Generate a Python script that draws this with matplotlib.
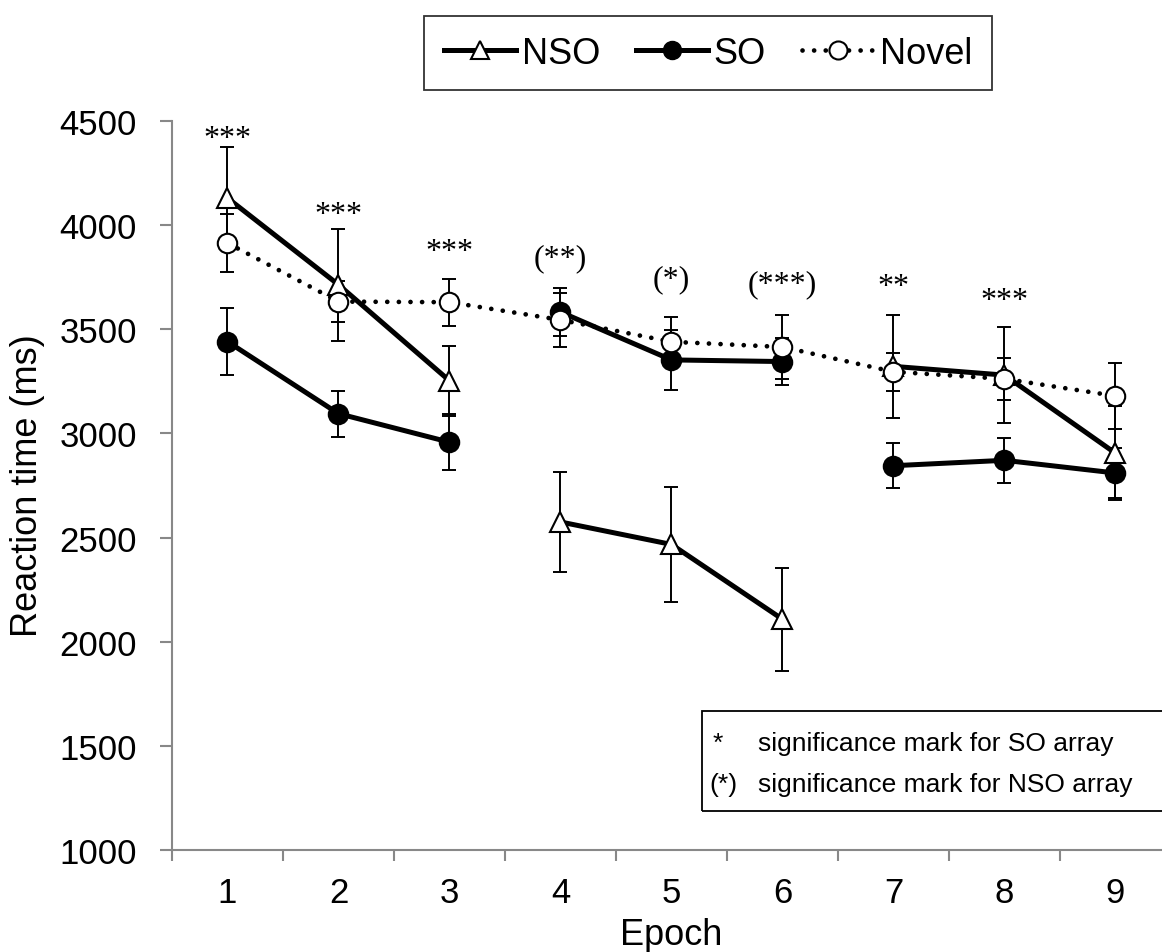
import numpy as np
import matplotlib
matplotlib.use("Agg")
import matplotlib.pyplot as plt
from matplotlib.lines import Line2D
from matplotlib.patches import Rectangle

plt.rcParams['font.family'] = ['Liberation Sans', 'DejaVu Sans']

epochs = np.arange(1, 10)
nso = np.array([4130, 3714, 3253, 2575, 2467, 2108, 3322, 3280, 2905])
nso_err = np.array([246, 268, 168, 240, 278, 247, 248, 230, 225])
so = np.array([3441, 3095, 2958, 3583, 3353, 3345, 2845, 2871, 2810])
so_err = np.array([160, 110, 135, 115, 143, 112, 108, 107, 120])
novel = np.array([3914, 3633, 3630, 3545, 3440, 3415, 3296, 3262, 3180])
novel_err = np.array([139, 99, 113, 130, 120, 154, 90, 102, 158])

sig_labels = ['***', '***', '***', '(**)', '(*)', '(***)', '**', '***']
sig_y = [4382, 4017, 3839, 3809, 3708, 3684, 3667, 3604]

segments = [slice(0, 3), slice(3, 6), slice(6, 9)]

fig = plt.figure(figsize=(11.62, 9.53), dpi=100)
ax = fig.add_axes([0.148, 0.107, 0.8597, 0.765])

gray = '#888888'
lw_main = 3.6
ms = 14
dotted = (0, (0.01, 2.45))

# error bars first, markers on top
for y, e in [(nso, nso_err), (so, so_err), (novel, novel_err)]:
    ax.errorbar(epochs, y, yerr=e, fmt='none', ecolor='black',
                elinewidth=1.4, capsize=4.7, capthick=1.4, zorder=2)

for s in segments:
    ax.plot(epochs[s], nso[s], color='black', lw=lw_main, marker='^', ms=ms,
            mfc='white', mec='black', mew=1.5, zorder=3)
    ax.plot(epochs[s], so[s], color='black', lw=lw_main, marker='o', ms=ms,
            mfc='black', mec='black', mew=1.5, zorder=3)

ax.plot(epochs, novel, color='black', lw=3.4, linestyle=dotted,
        dash_capstyle='round', marker='o', ms=ms, mfc='white', mec='black',
        mew=1.5, zorder=4)

for x, lab, yy in zip(epochs, sig_labels, sig_y):
    ax.text(x, yy, lab, ha='center', va='baseline', fontsize=23,
            family=['Liberation Serif', 'DejaVu Serif'])

ax.set_ylim(1000, 4500)
ax.set_xlim(0.5, 9.5)
ax.set_yticks(np.arange(1000, 4501, 500))
ax.set_xticks(np.arange(0.5, 10, 1))
ax.set_xticklabels([])
ax.set_xticks(epochs, minor=True)
ax.set_xticklabels([str(e) for e in epochs], minor=True)

for side in ['top', 'right']:
    ax.spines[side].set_visible(False)
for side in ['left', 'bottom']:
    ax.spines[side].set_color(gray)
    ax.spines[side].set_linewidth(1.5)

ax.tick_params(axis='y', which='major', length=8.6, width=1.5, color=gray,
               labelsize=25, pad=16.5)
ax.tick_params(axis='x', which='major', length=8, width=1.5, color=gray)
ax.tick_params(axis='x', which='minor', length=0, labelsize=25, pad=19)

fig.text(27.5 / 1162, 1 - 486 / 953, 'Reaction time (ms)', rotation=90,
         ha='center', va='center', fontsize=26)
fig.text(671 / 1162, 8 / 953, 'Epoch', ha='center', va='baseline', fontsize=26)

handles = [
    Line2D([], [], color='black', lw=lw_main, marker='^', ms=13,
           mfc='white', mec='black', mew=1.5),
    Line2D([], [], color='black', lw=lw_main, marker='o', ms=13,
           mfc='black', mec='black'),
    Line2D([], [], color='black', lw=3.4, linestyle=dotted,
           dash_capstyle='round', marker='o', ms=13, mfc='white',
           mec='black', mew=1.5),
]
leg = fig.legend(handles, ['NSO', 'SO', 'Novel'], loc='center',
                 bbox_to_anchor=(708 / 1162, 1 - 54 / 953), ncol=3,
                 fontsize=26, frameon=True, fancybox=False,
                 handlelength=2.0, handletextpad=0.15, columnspacing=1.0,
                 borderpad=0.55, borderaxespad=0)
leg.get_frame().set_edgecolor('black')
leg.get_frame().set_linewidth(1.3)

# significance key box, runs off the right edge like the original
fig.patches.append(Rectangle((702 / 1162, 1 - 812 / 953), 0.5, 100 / 953,
                             transform=fig.transFigure, fill=False,
                             edgecolor='black', lw=1.3))
fig.text(713 / 1162, 1 - 751 / 953, '*', fontsize=19, va='baseline')
fig.text(758 / 1162, 1 - 751 / 953, 'significance mark for SO array',
         fontsize=19, va='baseline')
fig.text(709 / 1162, 1 - 792 / 953, '(*)', fontsize=19, va='baseline')
fig.text(758 / 1162, 1 - 792 / 953, 'significance mark for NSO array',
         fontsize=19, va='baseline')

fig.savefig('out.png', dpi=100)
